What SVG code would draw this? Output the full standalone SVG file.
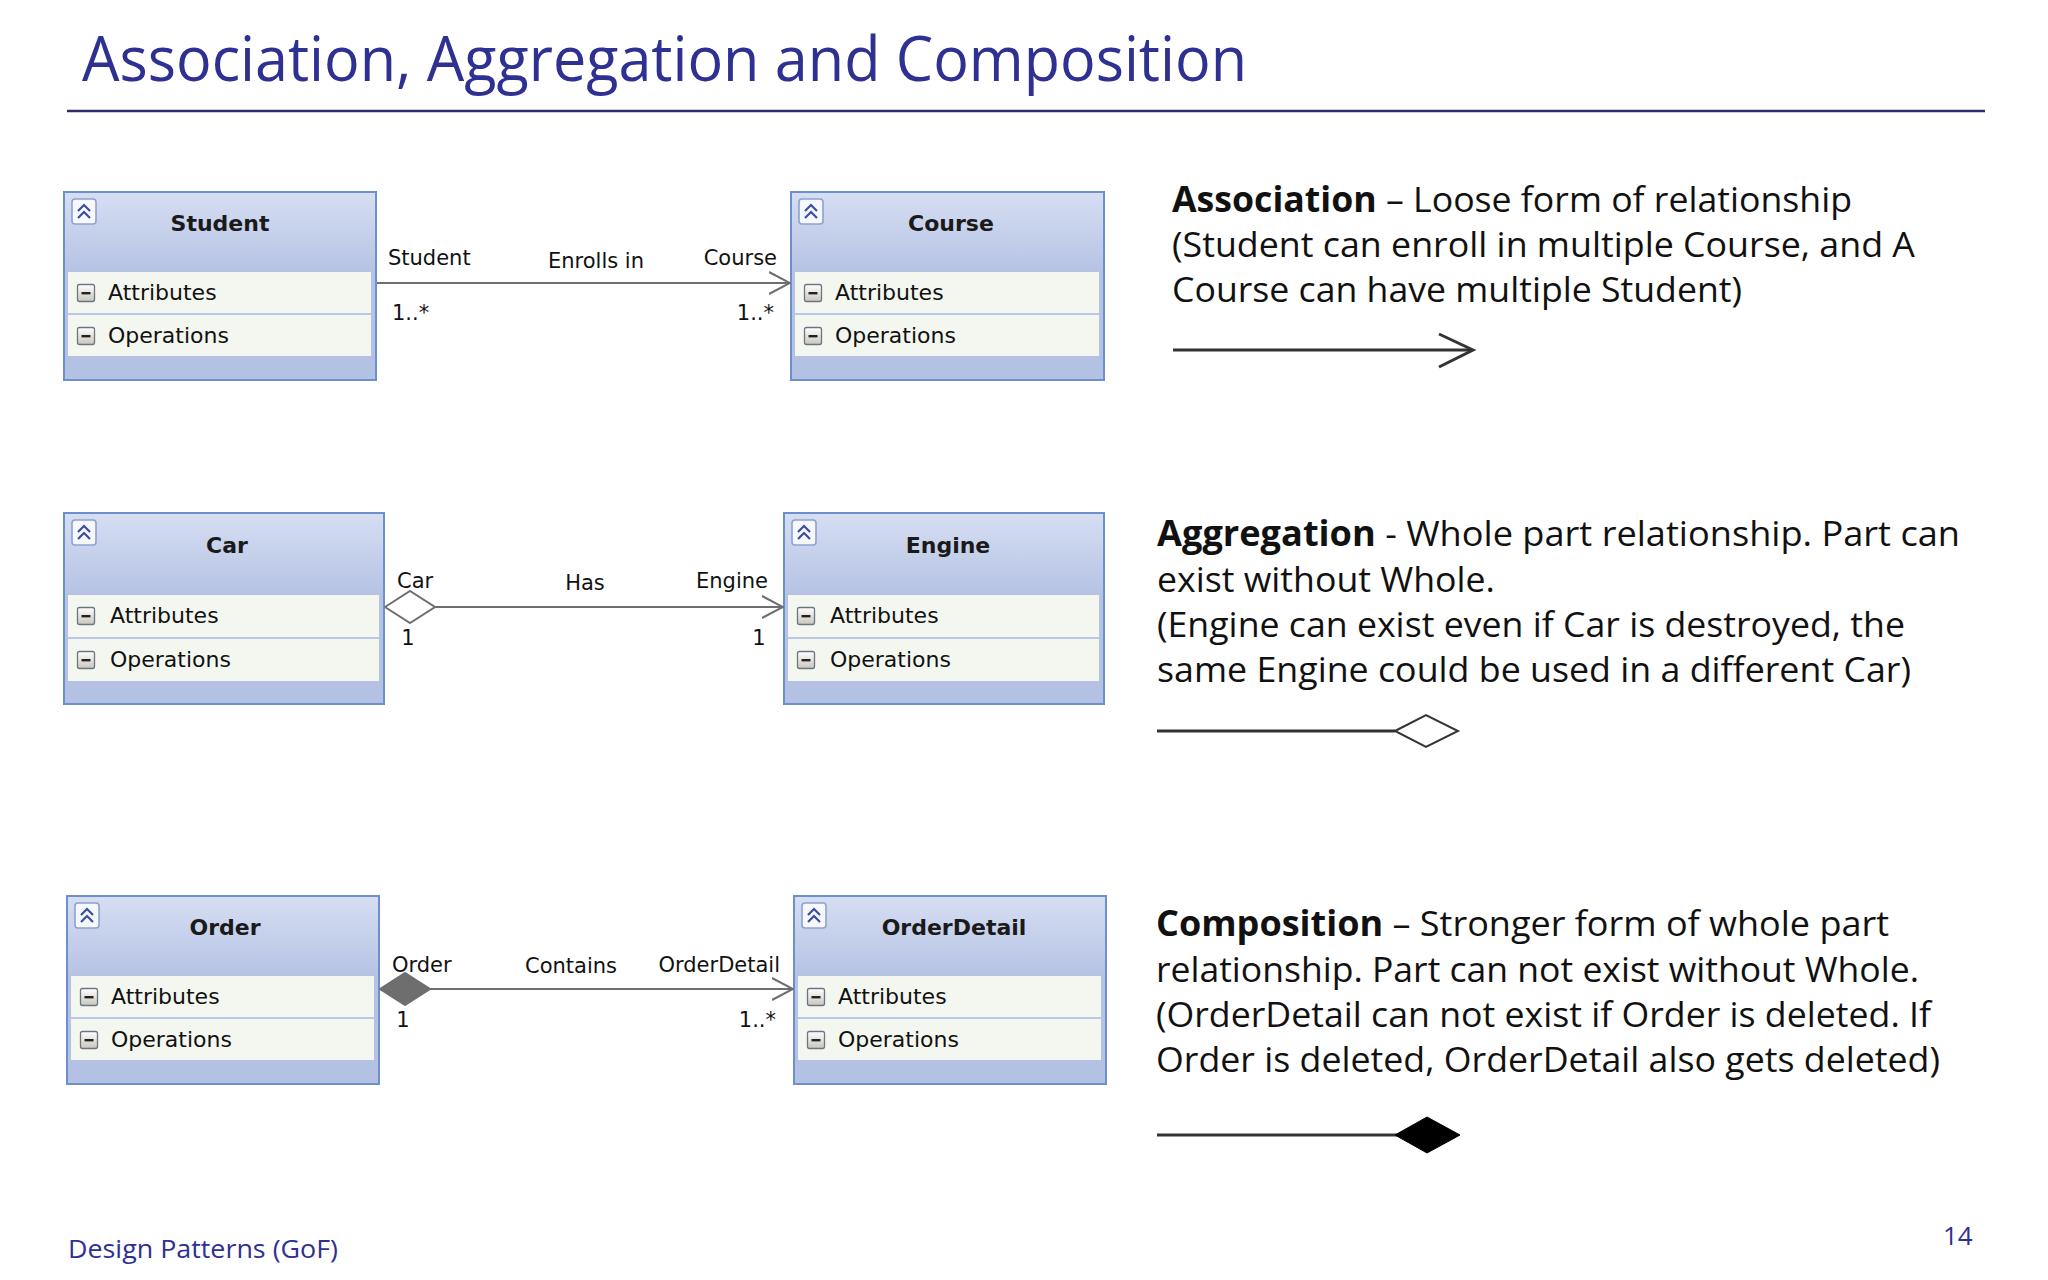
<svg xmlns="http://www.w3.org/2000/svg" width="2048" height="1280" viewBox="0 0 2048 1280">
<style>
.title{font-family:"Open Sans","Noto Sans","DejaVu Sans",sans-serif;font-size:63px;fill:#2E3192}
.foot{font-family:"Open Sans","Noto Sans","DejaVu Sans",sans-serif;font-size:26px;fill:#2E3192}
.desc{font-family:"Open Sans","Noto Sans","DejaVu Sans",sans-serif;font-size:35px;fill:#111}
.desc .b{font-weight:bold}
.cname{font-family:"DejaVu Sans","Liberation Sans",sans-serif;font-size:22px;font-weight:bold;fill:#1a1a1a;text-anchor:middle}
.row{font-family:"DejaVu Sans","Liberation Sans",sans-serif;font-size:22px;fill:#111}
.lbl{font-family:"DejaVu Sans","Liberation Sans",sans-serif;font-size:21px;fill:#111}
.conn{stroke:#6E6E6E;stroke-width:2;fill:none}
.box{fill:url(#hdr);stroke:#6D8FCB;stroke-width:2}
.rowbg{fill:#F4F7EF}
.band{fill:#B3C1E3}
.sep{stroke:#B9C8E6;stroke-width:2}
.leg{stroke:#333;stroke-width:3;fill:none}
</style>
<defs>
<linearGradient id="hdr" x1="0" y1="0" x2="0" y2="1">
<stop offset="0" stop-color="#D6DEF2"/>
<stop offset="0.42" stop-color="#B6C3E4"/>
<stop offset="1" stop-color="#B3C1E3"/>
</linearGradient>
<linearGradient id="btn" x1="0" y1="0" x2="0" y2="1">
<stop offset="0" stop-color="#FFFFFF"/>
<stop offset="1" stop-color="#C9C6BC"/>
</linearGradient>
<g id="minus">
<rect x="0.5" y="0.5" width="17" height="17" rx="2" fill="url(#btn)" stroke="#6B7584" stroke-width="1.3"/>
<rect x="4.5" y="8" width="9" height="2.4" fill="#222"/>
</g>
<g id="collapse">
<rect x="1" y="1" width="24" height="25" rx="3" fill="#F6F8FD" stroke="#8DA2CC" stroke-width="1.6"/>
<path d="M7,13 L13,7 L19,13 M7,20 L13,14 L19,20" fill="none" stroke="#3B4FA0" stroke-width="2.2"/>
</g>
<marker id="openArrow" markerUnits="userSpaceOnUse" viewBox="0 0 22 24" refX="21" refY="12" markerWidth="22" markerHeight="24" orient="auto">
<path d="M0,1 L21,12 L0,23" fill="none" stroke="#6E6E6E" stroke-width="2"/>
</marker>
<marker id="hollowDiamond" markerUnits="userSpaceOnUse" viewBox="0 0 54 34" refX="1" refY="17" markerWidth="54" markerHeight="34" orient="auto">
<path d="M1,17 L26,1 L51,17 L26,33 Z" fill="#FFFFFF" stroke="#6E6E6E" stroke-width="2"/>
</marker>
<marker id="filledDiamond" markerUnits="userSpaceOnUse" viewBox="0 0 54 34" refX="1" refY="17" markerWidth="54" markerHeight="34" orient="auto">
<path d="M1,17 L26,1 L51,17 L26,33 Z" fill="#6E6E6E" stroke="#6E6E6E" stroke-width="2"/>
</marker>
</defs>
<rect width="2048" height="1280" fill="#FFFFFF"/>

<g id="header">
<text class="title" x="82" y="81" textLength="1165" lengthAdjust="spacingAndGlyphs">Association, Aggregation and Composition</text>
<line x1="67" y1="111" x2="1985" y2="111" stroke="#2E2E6E" stroke-width="2.5"/>
</g>

<g id="node-student" transform="translate(64,192)">
<rect class="box" x="0" y="0" width="312" height="188"/>
<rect class="rowbg" x="4" y="80" width="303" height="41"/>
<rect class="rowbg" x="4" y="123" width="303" height="41"/>
<line class="sep" x1="4" y1="122" x2="307" y2="122"/>
<rect class="band" x="1" y="164" width="310" height="23"/>
<use href="#collapse" x="7" y="6"/>
<text class="cname" x="156" y="39">Student</text>
<use href="#minus" x="13" y="92"/>
<text class="row" x="44" y="108">Attributes</text>
<use href="#minus" x="13" y="135"/>
<text class="row" x="44" y="151">Operations</text>
</g>

<g id="node-course" transform="translate(791,192)">
<rect class="box" x="0" y="0" width="313" height="188"/>
<rect class="rowbg" x="4" y="80" width="304" height="41"/>
<rect class="rowbg" x="4" y="123" width="304" height="41"/>
<line class="sep" x1="4" y1="122" x2="308" y2="122"/>
<rect class="band" x="1" y="164" width="311" height="23"/>
<use href="#collapse" x="7" y="6"/>
<text class="cname" x="160" y="39">Course</text>
<use href="#minus" x="13" y="92"/>
<text class="row" x="44" y="108">Attributes</text>
<use href="#minus" x="13" y="135"/>
<text class="row" x="44" y="151">Operations</text>
</g>

<g id="node-car" transform="translate(64,513)">
<rect class="box" x="0" y="0" width="320" height="191"/>
<rect class="rowbg" x="4" y="82" width="311" height="42"/>
<rect class="rowbg" x="4" y="126" width="311" height="42"/>
<line class="sep" x1="4" y1="125" x2="315" y2="125"/>
<rect class="band" x="1" y="168" width="318" height="22"/>
<use href="#collapse" x="7" y="6"/>
<text class="cname" x="163" y="40">Car</text>
<use href="#minus" x="13" y="94"/>
<text class="row" x="46" y="110">Attributes</text>
<use href="#minus" x="13" y="138"/>
<text class="row" x="46" y="154">Operations</text>
</g>

<g id="node-engine" transform="translate(784,513)">
<rect class="box" x="0" y="0" width="320" height="191"/>
<rect class="rowbg" x="4" y="82" width="311" height="42"/>
<rect class="rowbg" x="4" y="126" width="311" height="42"/>
<line class="sep" x1="4" y1="125" x2="315" y2="125"/>
<rect class="band" x="1" y="168" width="318" height="22"/>
<use href="#collapse" x="7" y="6"/>
<text class="cname" x="164" y="40">Engine</text>
<use href="#minus" x="13" y="94"/>
<text class="row" x="46" y="110">Attributes</text>
<use href="#minus" x="13" y="138"/>
<text class="row" x="46" y="154">Operations</text>
</g>

<g id="node-order" transform="translate(67,896)">
<rect class="box" x="0" y="0" width="312" height="188"/>
<rect class="rowbg" x="4" y="80" width="303" height="41"/>
<rect class="rowbg" x="4" y="123" width="303" height="41"/>
<line class="sep" x1="4" y1="122" x2="307" y2="122"/>
<rect class="band" x="1" y="164" width="310" height="23"/>
<use href="#collapse" x="7" y="6"/>
<text class="cname" x="158" y="39">Order</text>
<use href="#minus" x="13" y="92"/>
<text class="row" x="44" y="108">Attributes</text>
<use href="#minus" x="13" y="135"/>
<text class="row" x="44" y="151">Operations</text>
</g>

<g id="node-orderdetail" transform="translate(794,896)">
<rect class="box" x="0" y="0" width="312" height="188"/>
<rect class="rowbg" x="4" y="80" width="303" height="41"/>
<rect class="rowbg" x="4" y="123" width="303" height="41"/>
<line class="sep" x1="4" y1="122" x2="307" y2="122"/>
<rect class="band" x="1" y="164" width="310" height="23"/>
<use href="#collapse" x="7" y="6"/>
<text class="cname" x="160" y="39">OrderDetail</text>
<use href="#minus" x="13" y="92"/>
<text class="row" x="44" y="108">Attributes</text>
<use href="#minus" x="13" y="135"/>
<text class="row" x="44" y="151">Operations</text>
</g>

<g id="connectors">
<line class="conn" x1="377" y1="283" x2="790" y2="283" marker-end="url(#openArrow)"/>
<line class="conn" x1="385" y1="607" x2="783" y2="607" marker-start="url(#hollowDiamond)" marker-end="url(#openArrow)"/>
<line class="conn" x1="380" y1="989" x2="793" y2="989" marker-start="url(#filledDiamond)" marker-end="url(#openArrow)"/>
<text class="lbl" x="388" y="265">Student</text>
<text class="lbl" x="596" y="268" text-anchor="middle">Enrolls in</text>
<text class="lbl" x="777" y="265" text-anchor="end">Course</text>
<text class="lbl" x="392" y="320">1..*</text>
<text class="lbl" x="774" y="320" text-anchor="end">1..*</text>
<text class="lbl" x="397" y="588">Car</text>
<text class="lbl" x="585" y="590" text-anchor="middle">Has</text>
<text class="lbl" x="768" y="588" text-anchor="end">Engine</text>
<text class="lbl" x="408" y="645" text-anchor="middle">1</text>
<text class="lbl" x="759" y="645" text-anchor="middle">1</text>
<text class="lbl" x="392" y="972">Order</text>
<text class="lbl" x="571" y="973" text-anchor="middle">Contains</text>
<text class="lbl" x="780" y="972" text-anchor="end">OrderDetail</text>
<text class="lbl" x="403" y="1027" text-anchor="middle">1</text>
<text class="lbl" x="776" y="1027" text-anchor="end">1..*</text>
</g>

<g id="desc-association">
<text class="desc" x="1172" y="212" textLength="680" lengthAdjust="spacingAndGlyphs"><tspan class="b">Association</tspan> – Loose form of relationship</text>
<text class="desc" x="1172" y="257" textLength="743" lengthAdjust="spacingAndGlyphs">(Student can enroll in multiple Course, and A</text>
<text class="desc" x="1172" y="302" textLength="570" lengthAdjust="spacingAndGlyphs">Course can have multiple Student)</text>
<line class="leg" x1="1173" y1="350" x2="1471" y2="350"/>
<path class="leg" d="M1439,334 L1473,350 L1439,367" stroke-width="2"/>
</g>

<g id="desc-aggregation">
<text class="desc" x="1157" y="546" textLength="803" lengthAdjust="spacingAndGlyphs"><tspan class="b">Aggregation</tspan> - Whole part relationship. Part can</text>
<text class="desc" x="1157" y="592" textLength="338" lengthAdjust="spacingAndGlyphs">exist without Whole.</text>
<text class="desc" x="1157" y="637" textLength="748" lengthAdjust="spacingAndGlyphs">(Engine can exist even if Car is destroyed, the</text>
<text class="desc" x="1157" y="682" textLength="754" lengthAdjust="spacingAndGlyphs">same Engine could be used in a different Car)</text>
<line class="leg" x1="1157" y1="731" x2="1395" y2="731"/>
<path d="M1395,731 L1426,715 L1458,731 L1426,747 Z" fill="#FFFFFF" stroke="#333" stroke-width="2"/>
</g>

<g id="desc-composition">
<text class="desc" x="1156" y="936" textLength="733" lengthAdjust="spacingAndGlyphs"><tspan class="b">Composition</tspan> – Stronger form of whole part</text>
<text class="desc" x="1156" y="982" textLength="763" lengthAdjust="spacingAndGlyphs">relationship. Part can not exist without Whole.</text>
<text class="desc" x="1156" y="1027" textLength="775" lengthAdjust="spacingAndGlyphs">(OrderDetail can not exist if Order is deleted. If</text>
<text class="desc" x="1156" y="1072" textLength="784" lengthAdjust="spacingAndGlyphs">Order is deleted, OrderDetail also gets deleted)</text>
<line class="leg" x1="1157" y1="1135" x2="1398" y2="1135"/>
<path d="M1395,1135 L1427,1117 L1460,1135 L1427,1153 Z" fill="#000000" stroke="#000" stroke-width="1"/>
</g>

<g id="footer">
<text class="foot" x="68" y="1258" textLength="270" lengthAdjust="spacingAndGlyphs">Design Patterns (GoF)</text>
<text class="foot" x="1943" y="1245">14</text>
</g>
</svg>
